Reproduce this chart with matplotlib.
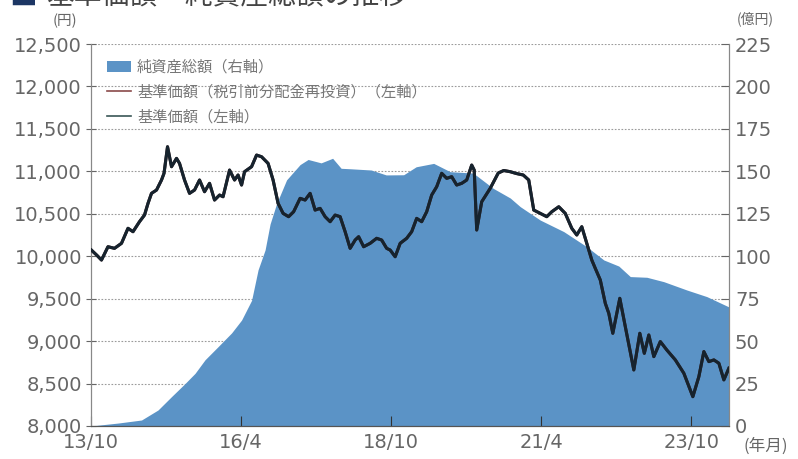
import matplotlib
matplotlib.use('Agg')
import matplotlib.pyplot as plt
from matplotlib.patches import Patch
from matplotlib.lines import Line2D

plt.rcParams['font.family'] = ['Noto Sans CJK JP', 'DejaVu Sans']

# 経過月数（13/10 = 0）
nav_months = [0.07, 1.2, 2.1, 3.4, 4.7, 6.1, 7.4, 8.4, 9.7, 10.7, 11.4, 12.1, 13.1, 14.1,
              14.6, 15.3, 16.1, 17.1, 17.7, 18.7, 19.7, 20.7, 21.7, 22.7, 23.7, 24.7, 25.7,
              26.4, 27.7, 28.7, 29.4, 30.1, 30.7, 32.1, 33.1, 34.1, 35.4, 36.4, 37.4, 38.4,
              39.5, 40.5, 41.8, 42.8, 43.8, 44.8, 45.8, 46.8, 47.8, 48.8, 49.8, 50.8, 51.8,
              52.8, 53.5, 54.5, 55.8, 57.1, 58.1, 59.1, 59.8, 60.8, 61.8, 63.1, 64.1, 65.1,
              66.1, 67.1, 68.1, 69.1, 70.1, 71.1, 72.1, 73.1, 74.1, 75.1, 76.1, 76.6, 77.1,
              78.1, 79.8, 81.4, 82.5, 83.8, 85.0, 86.4, 87.5, 88.5, 89.8, 91.1, 92.1, 93.5,
              94.8, 96.1, 97.1, 98.1, 99.1, 100.1, 100.8, 101.8, 102.8, 103.5, 104.3, 105.7,
              106.8, 108.5, 109.7, 110.6, 111.5, 112.5, 113.8, 115.1, 116.8, 118.5, 120.3,
              121.5, 122.5, 123.5, 124.5, 125.5, 126.5, 127.5]
# 基準価額（円）
nav = [10073, 10010, 9955, 10112, 10093, 10152, 10329, 10289, 10407, 10485, 10623, 10741,
       10780, 10898, 10977, 11290, 11055, 11153, 11094, 10898, 10741, 10780, 10898, 10760,
       10859, 10662, 10721, 10701, 11015, 10898, 10957, 10839, 10996, 11055, 11192, 11172,
       11094, 10898, 10623, 10505, 10466, 10524, 10682, 10662, 10741, 10544, 10564, 10466,
       10407, 10485, 10466, 10289, 10093, 10191, 10230, 10112, 10152, 10211, 10191, 10093,
       10073, 9994, 10152, 10211, 10289, 10446, 10407, 10524, 10721, 10819, 10977, 10918,
       10937, 10839, 10859, 10898, 11074, 11015, 10309, 10642, 10800, 10980, 11010, 10996,
       10975, 10957, 10898, 10544, 10505, 10466, 10524, 10583, 10505, 10329, 10250, 10348,
       10152, 9955, 9857, 9720, 9445, 9327, 9092, 9504, 9170, 8660, 9092, 8856, 9072, 8817,
       8994, 8895, 8778, 8621, 8345, 8581, 8876, 8758, 8778, 8739, 8543, 8680]
# 分配実績なしのため同じ値
nav_reinvest = list(nav)

asset_months = [0, 5.4, 10.1, 13.4, 16.1, 18.8, 20.8, 22.8, 25.4, 28.1, 30.1, 32.1, 33.4,
                34.8, 35.8, 37.1, 39.1, 41.8, 43.4, 46.0, 48.3, 50.0, 52.0, 56.0, 59.0,
                62.5, 65.0, 68.5, 71.8, 76.4, 80.4, 83.8, 85.8, 89.8, 94.5, 99.1, 102.5,
                105.5, 107.8, 111.1, 114.5, 119.1, 123.1, 127.6]
# 純資産総額（億円）
net_assets = [0, 1.7, 3.5, 9.4, 17.3, 25, 31, 39, 46.7, 54.8, 62.4, 74, 92, 103.7, 119,
              131, 145, 154, 157, 155, 157.7, 151.8, 151.5, 150.8, 147.9, 148, 152.7,
              154.7, 149.8, 149, 140, 134.3, 129.2, 121.3, 114.5, 105.6, 97.8, 94.2, 88,
              87.6, 85, 80.1, 76.2, 70]

xtick_pos = [0, 30, 60, 90, 120]
xtick_labels = ['13/10', '16/4', '18/10', '21/4', '23/10']
left_ticks = list(range(8000, 12501, 500))
right_ticks = list(range(0, 226, 25))

tick_color = '#666666'
area_color = '#5b93c6'

fig = plt.figure(figsize=(7.98, 4.59), dpi=100)
ax = fig.add_axes([0.114, 0.072, 0.8, 0.832])
ax2 = ax.twinx()

# 純資産総額（右軸）
ax2.fill_between(asset_months, net_assets, 0, color=area_color, lw=0, zorder=1)
ax2.set_ylim(0, 225)
ax2.set_yticks(right_ticks)
ax2.set_axisbelow(True)
ax2.grid(axis='y', color='#9a9a9a', ls=(0, (1.5, 1.5)), lw=0.8)
ax2.tick_params(axis='y', direction='in', length=6, color='#666666',
                labelsize=14, labelcolor=tick_color, pad=4)

# 基準価額（左軸）
ax.set_zorder(ax2.get_zorder() + 1)
ax.patch.set_visible(False)
ax.plot(nav_months, nav_reinvest, color='#4a2a2a', lw=2.2, zorder=3)
ax.plot(nav_months, nav, color='#16232e', lw=2.2, zorder=4)
ax.set_ylim(8000, 12500)
ax.set_yticks(left_ticks)
ax.set_yticklabels([f'{v:,}' for v in left_ticks])
ax.set_xlim(0, 127.6)
ax.set_xticks(xtick_pos)
ax.set_xticklabels(xtick_labels)
ax.tick_params(axis='y', direction='inout', length=7, color='#666666',
               labelsize=14, labelcolor=tick_color, pad=3)
ax.tick_params(axis='x', direction='in', length=7, color='#333333',
               labelsize=14, labelcolor=tick_color, pad=5)

for lbl in ax.get_yticklabels() + ax.get_xticklabels() + ax2.get_yticklabels():
    lbl.set_family('DejaVu Sans')

for a in (ax, ax2):
    a.spines['top'].set_visible(False)
    a.spines['left'].set_color('#888888')
    a.spines['right'].set_color('#888888')
    a.spines['bottom'].set_color('#555555')

handles = [Patch(facecolor=area_color, edgecolor='none'),
           Line2D([], [], color='#8a4a4a', lw=1.2),
           Line2D([], [], color='#3a5656', lw=1.2)]
labels = ['純資産総額（右軸）', '基準価額（税引前分配金再投資）（左軸）', '基準価額（左軸）']
ax.legend(handles, labels, loc='upper left', bbox_to_anchor=(0.01, 0.985), frameon=False,
          fontsize=11, labelcolor='#777777', handlelength=1.6, handletextpad=0.4,
          labelspacing=0.5, borderaxespad=0.2)

fig.text(0.082, 0.955, '(円)', fontsize=10.5, color=tick_color, ha='center', va='center')
fig.text(0.947, 0.96, '(億円)', fontsize=10, color=tick_color, ha='center', va='center')
fig.text(0.96, 0.027, '(年月)', fontsize=12, color=tick_color, ha='center', va='center')

# 見出し（上端で切れている）
fig.text(0.012, 1.008, '■', fontsize=20, color='#1c3664', ha='left', va='center')
fig.text(0.058, 1.008, '基準価額・純資産総額の推移', fontsize=20, color='#444444',
         ha='left', va='center')

fig.savefig('out.png', dpi=100)
